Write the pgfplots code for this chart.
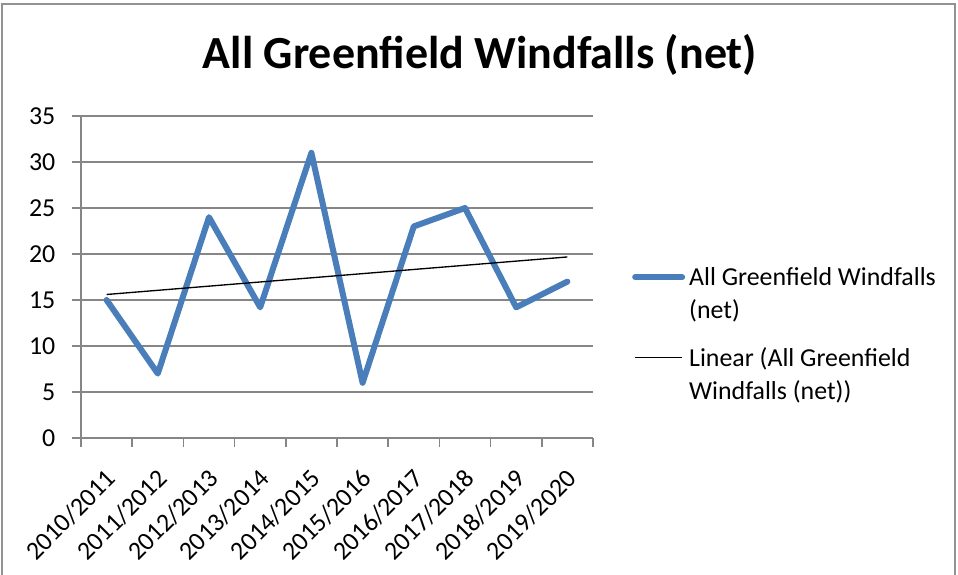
\documentclass[border=0pt]{standalone}
\usepackage{fontspec}
\setmainfont{Carlito}
\usepackage{pgfplots}
\usepackage{pgfplotstable}
\pgfplotsset{compat=1.18}

\definecolor{xlblue}{HTML}{4A7EBB}
\definecolor{xlgrid}{HTML}{868686}

% net greenfield windfalls per year
\pgfplotstableread{
x y
1 15
2 7
3 24
4 14.2
5 31
6 6
7 23
8 25
9 14.2
10 17
}\windfalls

\begin{document}
\begin{tikzpicture}[x=0.75pt,y=0.75pt]
\useasboundingbox (0,0) rectangle (958,575);
\draw[xlgrid!90, line width=1.2pt] (2,-5) -- (2,571) -- (955,571) -- (955,-5);
\node[anchor=base, font=\fontsize{34.5}{40}\selectfont\bfseries] at (480,506)
  {All Greenfield Windfalls (net)};
\begin{axis}[
  at={(60.75pt,102.75pt)}, anchor=south west,
  scale only axis, width=384pt, height=241.5pt,
  xmin=0.5, xmax=10.5, ymin=0, ymax=35,
  axis lines*=left,
  axis line style={xlgrid, line width=1.2pt},
  tick align=outside,
  major tick length=6.75pt,
  tick style={xlgrid, line width=1.2pt},
  ytick={0,5,...,35},
  ymajorgrids,
  grid style={xlgrid, line width=1.2pt},
  xtick={0.5,1.5,...,10.5},
  xticklabels={},
  extra x ticks={1,...,10},
  extra x tick labels={2010/2011,2011/2012,2012/2013,2013/2014,2014/2015,2015/2016,2016/2017,2017/2018,2018/2019,2019/2020},
  extra x tick style={tick style={draw=none}, grid=none},
  /pgf/number format/assume math mode=true,
  tick label style={font=\fontsize{19.4}{22}\selectfont},
  x tick label style={xshift=6pt, yshift=-18pt, rotate=45, anchor=east},
  y tick label style={xshift=-9pt},
  legend style={at={(1.076,0.322)}, anchor=west, draw=none, fill=none,
    inner sep=0pt, row sep=16.25pt, column sep=-5pt,
    font=\fontsize{19.4}{24.75}\selectfont,
    cells={anchor=west, align=left, inner sep=1pt}},
  legend image code/.code={
    \path (0pt,-12.4pt) (39.75pt,12.4pt);
    \draw[#1] (-1.5pt,12.4pt) -- (33.75pt,12.4pt);},
]
\addplot[xlblue, line width=4.5pt, line join=round, line cap=round]
  table[x=x, y=y] {\windfalls};
\addlegendentry{All Greenfield Windfalls\\(net)}
\addplot[black, line width=1pt]
  table[x=x, y={create col/linear regression={y=y}}] {\windfalls};
\addlegendentry{Linear (All Greenfield\\Windfalls (net))}
\end{axis}
\end{tikzpicture}
\end{document}
